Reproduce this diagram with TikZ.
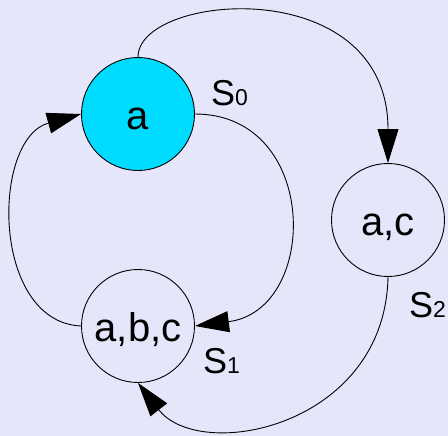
\documentclass[tikz,border=0pt]{standalone}
\usepackage{fontspec}
\setmainfont{Liberation Sans}
\usetikzlibrary{arrows.meta}
\definecolor{bg}{HTML}{E6E6FA}
\definecolor{init}{HTML}{00DCFF}
\newcommand{\stname}[1]{{\fontsize{36}{36}\selectfont S}{\fontsize{23}{23}\selectfont #1}}
\tikzset{
  st/.style={draw,circle,line width=0.9pt,minimum size=113pt,inner sep=0pt,text height=31pt,text depth=0pt,font=\fontsize{40}{40}\selectfont},
  ist/.style={st,fill=init},
  lbl/.style={anchor=base west,inner sep=0pt},
  ar/.style={-{Triangle[length=34pt,width=21pt]},line width=0.9pt},
}

\begin{document}
\begin{tikzpicture}[x=1pt,y=-1pt]
\fill[bg] (0,0) rectangle (448,436);
\useasboundingbox (0,0) rectangle (448,436);
% states
\node[ist] (a) at (138,114) {a};
\node[st] (abc) at (138,326) {a,b,c};
\node[st] (ac) at (388,220) {a,c};
% state names
\node[lbl] (s0) at (211,106) {\stname{0}};
\node[lbl] (s1) at (203,373) {\stname{1}};
\node[lbl] (s2) at (409,317) {\stname{2}};
% transitions
\draw[ar] (a.north) .. controls +(0,-64) and +(0,-192) .. (ac.north);
\draw[ar] (a.east) .. controls +(125,0) and +(125,-16) .. (abc.east);
\draw[ar] (abc.west) .. controls +(-90,-4) and +(-90,25) .. (a.west);
\draw[ar] (ac.south) .. controls +(-3,150) and +(62,80) .. (abc.south);
\end{tikzpicture}
\end{document}
